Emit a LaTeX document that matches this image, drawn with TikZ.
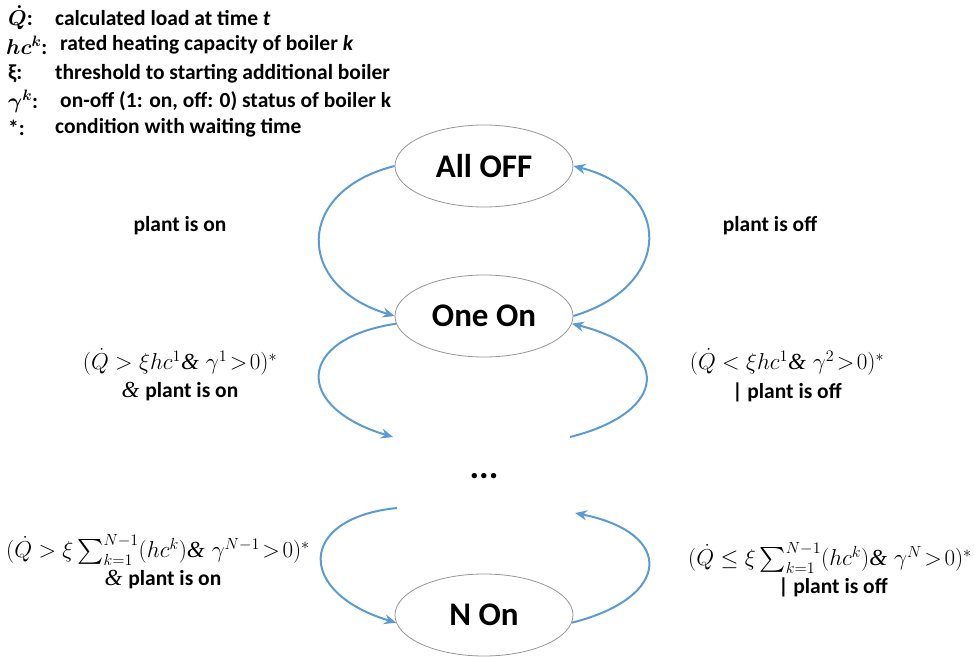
\RequirePackage{fix-cm}
\documentclass[tikz,border=0pt]{standalone}
\usepackage{amsmath}
\usepackage{exscale}
\usepackage{fontspec}
\newfontfamily\calfont{Carlito}
\newfontfamily\ampfont{Liberation Serif}
\newcommand{\amp}{\text{\ampfont\itshape\&}}
\usetikzlibrary{arrows.meta,shapes.geometric}
\definecolor{arrowblue}{RGB}{91,155,213}
\definecolor{ellgray}{RGB}{150,150,150}
\begin{document}
\begin{tikzpicture}[x=1pt,y=-1pt,
  state/.style={draw=ellgray, line width=0.8pt, ellipse, minimum width=178pt, minimum height=82pt, inner sep=0pt, font=\calfont\bfseries\fontsize{33}{36}\selectfont},
  arr/.style={draw=arrowblue, line width=2pt, -{Stealth[length=12pt,width=10pt]}},
  lbl/.style={inner sep=0pt, font=\calfont\bfseries\fontsize{21.5}{24}\selectfont},
  leg/.style={anchor=west, inner sep=0pt, font=\calfont\bfseries\boldmath\fontsize{21.5}{24}\selectfont},
  cond/.style={inner sep=0pt, font=\fontsize{23}{26}\selectfont},
  dotsst/.style={inner sep=0pt, font=\calfont\bfseries\fontsize{36}{38}\selectfont}
]
\path[use as bounding box] (0,0) rectangle (974,658);

% legend
\node[leg] (s1) at (8,18) {$\dot{Q}$:};
\node[leg] (t1) at (55,18) {calculated load at time \textit{t}};
\node[leg] (s2) at (6,45) {$hc^{k}$:};
\node[leg] (t2) at (60,45) {rated heating capacity of boiler \textit{k}};
\node[leg] (s3) at (8,74) {ξ:};
\node[leg] (t3) at (55,74) {threshold to starting additional boiler};
\node[leg] (s4) at (8,101) {$\gamma^{k}$:};
\node[leg] (t4) at (60,101) {on-off (1: on, off: 0) status of boiler k};
\node[leg] (s5) at (8,128) {*:};
\node[leg] (t5) at (55,128) {condition with waiting time};

% states
\node[state] (alloff) at (484,166) {All OFF};
\node[state] (oneon) at (484,316) {One On};
\node[state] (non) at (484,615) {N On};
\node[dotsst] (dots) at (484,476) {...};

\coordinate (d1) at (393,437);
\coordinate (d2) at (570,437);
\coordinate (d3) at (397,508);
\coordinate (d4) at (575,513);

% arrows
\draw[arr] (alloff.west) .. controls +(-100,25) and +(-100,-30) .. (oneon.west);
\draw[arr] (oneon.east) .. controls +(100,-30) and +(100,25) .. (alloff.east);
\draw[arr] (oneon.185) .. controls +(-100,15) and +(-100,-30) .. (d1);
\draw[arr] (d2) .. controls +(100,-25) and +(100,25) .. (oneon.355);
\draw[arr] (d3) .. controls +(-100,10) and +(-100,-30) .. (non.185);
\draw[arr] (non.355) .. controls +(100,-25) and +(100,20) .. (d4);

% labels
\node[lbl] (p1) at (180,226) {plant is on};
\node[lbl] (p2) at (770,226) {plant is off};

\node[cond] (c1a) at (180,362) {$(\dot{Q} > \xi hc^{1}\amp\ \gamma^{1}\!>\!0)^{*}$};
\node[cond] (c1b) at (180,392) {\ampfont\itshape\& {\calfont\upshape\bfseries\fontsize{21.5}{24}\selectfont plant is on}};

\node[cond] (c2a) at (787,362) {$(\dot{Q} < \xi hc^{1}\amp\ \gamma^{2}\!>\!0)^{*}$};
\node[cond] (c2b) at (787,392) {\calfont\bfseries\fontsize{21.5}{24}\selectfont | plant is off};

\node[cond] (c3a) at (158,550) {$(\dot{Q} > \xi\sum_{k=1}^{N-1}(hc^{k})\amp\ \gamma^{N-1}\!>\!0)^{*}$};
\node[cond] (c3b) at (163,580) {\ampfont\itshape\& {\calfont\upshape\bfseries\fontsize{21.5}{24}\selectfont plant is on}};

\node[cond] (c4a) at (830,558) {$(\dot{Q} \leq \xi\sum_{k=1}^{N-1}(hc^{k})\amp\ \gamma^{N}\!>\!0)^{*}$};
\node[cond] (c4b) at (833,587) {\calfont\bfseries\fontsize{21.5}{24}\selectfont | plant is off};
\end{tikzpicture}
\end{document}
